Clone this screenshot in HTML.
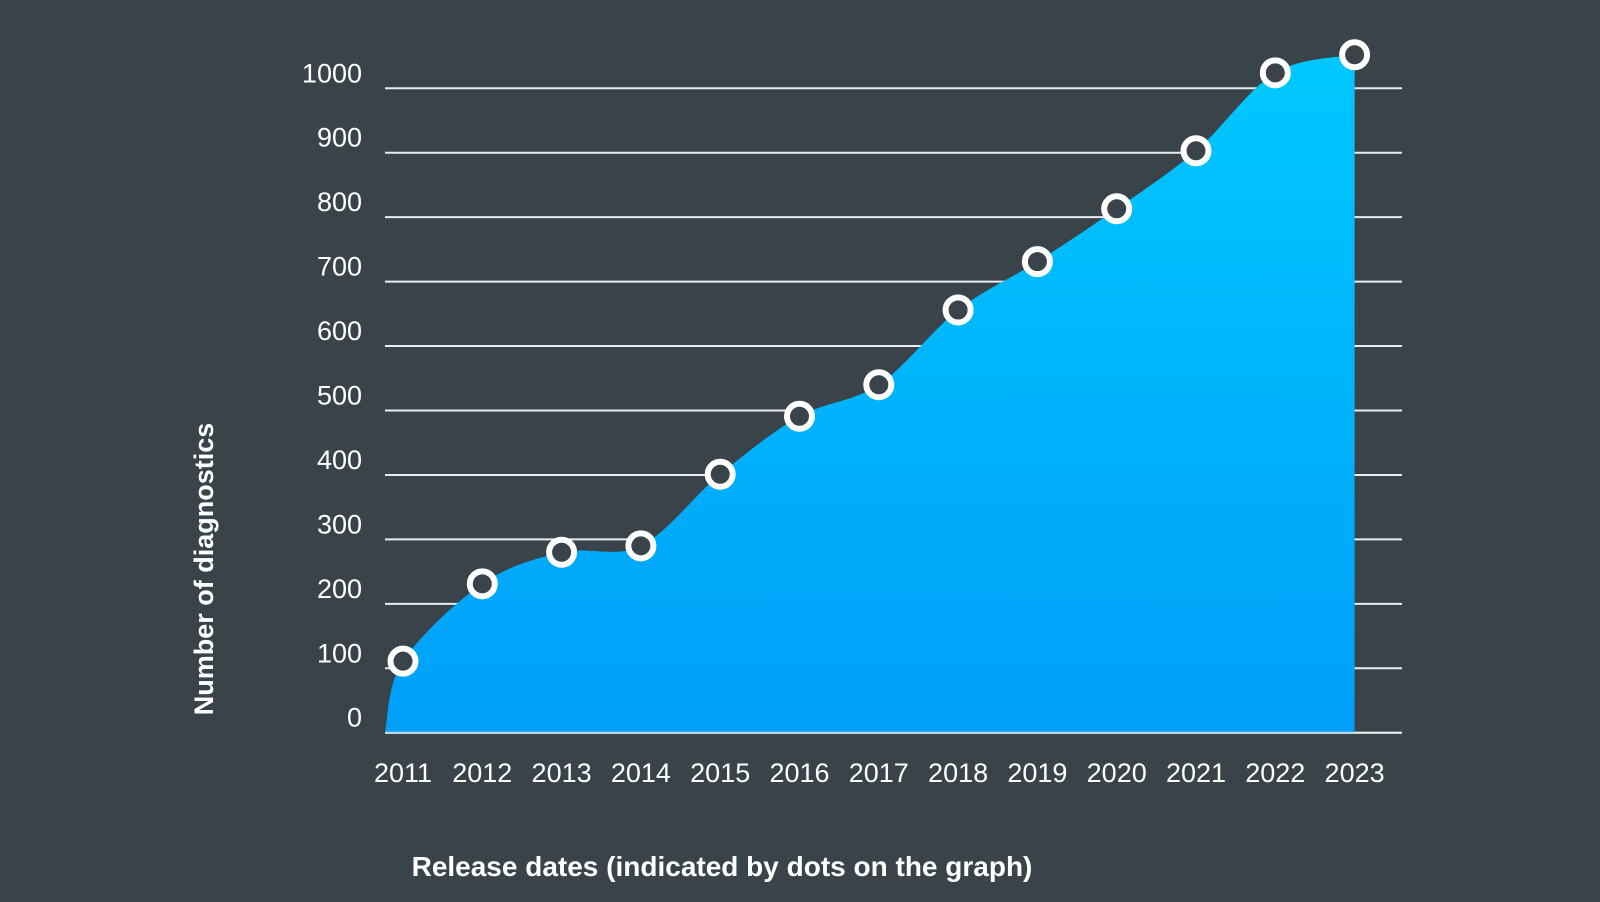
<!DOCTYPE html>
<html><head><meta charset="utf-8"><style>
html,body{margin:0;padding:0;background:#394349;}
svg{display:block;}
text{font-family:"Liberation Sans",Arial,sans-serif;fill:#fff;}
</style></head><body>
<svg id="chart" width="1600" height="902" viewBox="0 0 1600 902" xmlns="http://www.w3.org/2000/svg">
<defs><linearGradient id="g" x1="0" y1="0" x2="0" y2="1"><stop offset="0" stop-color="#00c8ff"/><stop offset="1" stop-color="#009ff8"/></linearGradient></defs>
<rect width="1600" height="902" fill="#394349"/>
<g id="grid"></g><g id="area"></g><g id="dots"></g><g id="labels"></g>
<text transform="translate(213,569) rotate(-90)" text-anchor="middle" font-size="27" font-weight="bold">Number of diagnostics</text>
<text x="722" y="876" text-anchor="middle" font-size="28" font-weight="bold">Release dates (indicated by dots on the graph)</text>
</svg>
<script>
const years=["2011","2012","2013","2014","2015","2016","2017","2018","2019","2020","2021","2022","2023"];
const diagnostics=[111,231,280,290,401,491,540,656,731,813,903,1024,1052];
const yTicks=[0,100,200,300,400,500,600,700,800,900,1000];
const NS="http://www.w3.org/2000/svg";
const x0=385,x1=1402,xFirst=403,xStep=79.3,yZero=732.7,yScale=0.6444;
const X=i=>xFirst+i*xStep, Y=v=>yZero-v*yScale;
function mk(t,a,p){const e=document.createElementNS(NS,t);for(const k in a)e.setAttribute(k,a[k]);p.appendChild(e);return e;}
const grid=document.getElementById('grid'),lab=document.getElementById('labels');
yTicks.forEach(v=>{
 const l=mk('line',{x1:x0,x2:x1,y1:Y(v),y2:Y(v),stroke:'#e8ecee','stroke-width':2},grid);
 
 
 const t=mk('text',{x:362,y:Y(v)-6,'text-anchor':'end','font-size':27},lab);t.textContent=v;
 
 
});
years.forEach((yr,i)=>{
 const t=mk('text',{x:X(i),y:782,'text-anchor':'middle','font-size':27},lab);t.textContent=yr;
 
 
});
// smooth area (catmull-rom)
const pts=[[x0,Y(0)]].concat(diagnostics.map((v,i)=>[X(i),Y(v)]));
let d='M'+pts[0][0]+','+pts[0][1];
for(let i=0;i<pts.length-1;i++){
 const p0=pts[Math.max(0,i-1)],p1=pts[i],p2=pts[i+1],p3=pts[Math.min(pts.length-1,i+2)];
 const c1=[p1[0]+(p2[0]-p0[0])/6,p1[1]+(p2[1]-p0[1])/6],c2=[p2[0]-(p3[0]-p1[0])/6,p2[1]-(p3[1]-p1[1])/6];
 d+=' C'+c1+' '+c2+' '+p2;
}
d+=' L'+X(diagnostics.length-1)+','+Y(0)+' Z';
const a=mk('path',{d:d,fill:'url(#g)'},document.getElementById('area'));


mk('line',{x1:x0,x2:x1,y1:Y(0),y2:Y(0),stroke:'#e8ecee','stroke-width':2,opacity:0.7},document.getElementById('area'));
diagnostics.forEach((v,i)=>{
 const c=mk('circle',{cx:X(i),cy:Y(v),r:12.5,fill:'#394349',stroke:'#fff','stroke-width':6},document.getElementById('dots'));
 
 
});
</script>
</body></html>
